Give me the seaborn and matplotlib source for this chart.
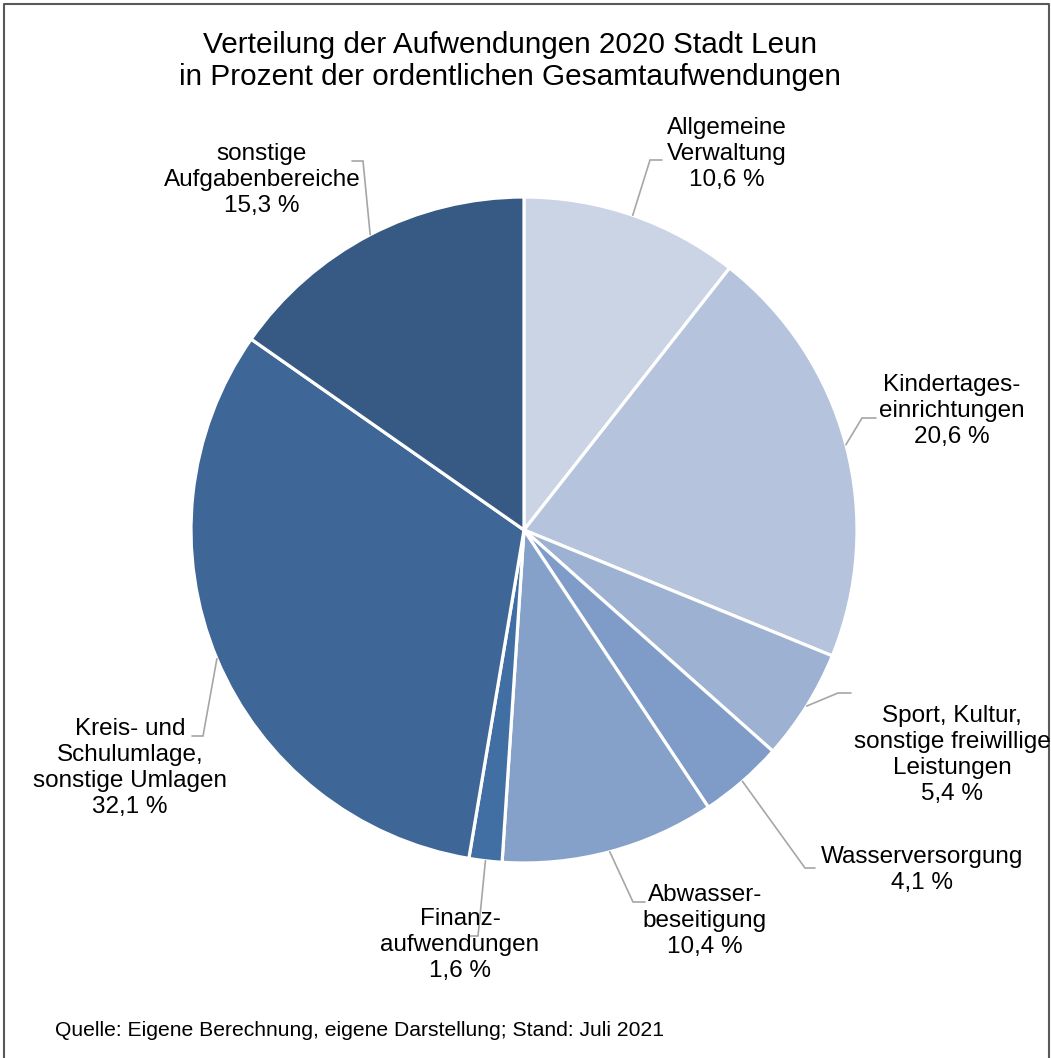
import matplotlib.pyplot as plt
import seaborn as sns
import numpy as np

# data
labels = ["Allgemeine\nVerwaltung", "Kindertages-\neinrichtungen",
          "Sport, Kultur,\nsonstige freiwillige\nLeistungen", "Wasserversorgung",
          "Abwasser-\nbeseitigung", "Finanz-\naufwendungen",
          "Kreis- und\nSchulumlage,\nsonstige Umlagen", "sonstige\nAufgabenbereiche"]
shares = [10.6, 20.6, 5.4, 4.1, 10.4, 1.6, 32.1, 15.3]
colors = ["#CAD4E5", "#B5C3DC", "#9DB1D2", "#7E9CC7",
          "#85A1CA", "#426FA3", "#3E6696", "#375A84"]

title = "Verteilung der Aufwendungen 2020 Stadt Leun\nin Prozent der ordentlichen Gesamtaufwendungen"
source = "Quelle: Eigene Berechnung, eigene Darstellung; Stand: Juli 2021"

# layout (pixel coords): label centre, elbow point, end of horizontal stub
label_pos = [(727, 154), (952, 411), (952, 755), (922, 870),
             (705, 921), (460, 945), (130, 768), (262, 180)]
elbows = [(650, 160, 662), (862, 418, 876), (838, 693, 851), (805, 868, 815),
          (633, 902, 645), (478, 936, 470), (203, 736, 192), (363, 161, 352)]

W, H = 1051, 1058
cx, cy, R = 524, 530, 333

sns.set_theme(style="white")
plt.rcParams['font.family'] = ['Liberation Sans', 'DejaVu Sans']

fig = plt.figure(figsize=(W / 100, H / 100), dpi=100)
ax = fig.add_axes([0, 0, 1, 1])

ax.pie(shares, colors=colors, startangle=-90, counterclock=True,
       radius=R, center=(cx, cy),
       wedgeprops={'edgecolor': 'white', 'linewidth': 2.3})

ax.set_xlim(0, W)
ax.set_ylim(H, 0)
ax.set_aspect('equal')
ax.axis('off')

# leader lines + labels
frac = np.array(shares) / sum(shares)
mids = np.cumsum(frac) - frac / 2
for i, (lab, v) in enumerate(zip(labels, shares)):
    th = np.deg2rad(-90 + mids[i] * 360)
    sx, sy = cx + R * np.cos(th), cy + R * np.sin(th)
    ex, ey, hx = elbows[i]
    ax.plot([sx, ex, hx], [sy, ey, ey], color="#A6A6A6", lw=1.2,
            solid_joinstyle='miter', zorder=1)
    txt = lab + "\n" + f"{v:.1f}".replace(".", ",") + " %"
    ax.text(label_pos[i][0], label_pos[i][1], txt, ha="center", va="center",
            fontsize=17.5, linespacing=1.24, color="black")

ax.text(510, 61, title, ha="center", va="center", fontsize=21.4,
        linespacing=1.2, color="black")
ax.text(55, 1030, source, ha="left", va="center", fontsize=15.2, color="black")

# frame around the chart area
ax.plot([4, 4, 1049, 1049], [H + 5, 4, 4, H + 5], color="#595959", lw=1.5,
        clip_on=False)

fig.savefig("out.png", dpi=100)
